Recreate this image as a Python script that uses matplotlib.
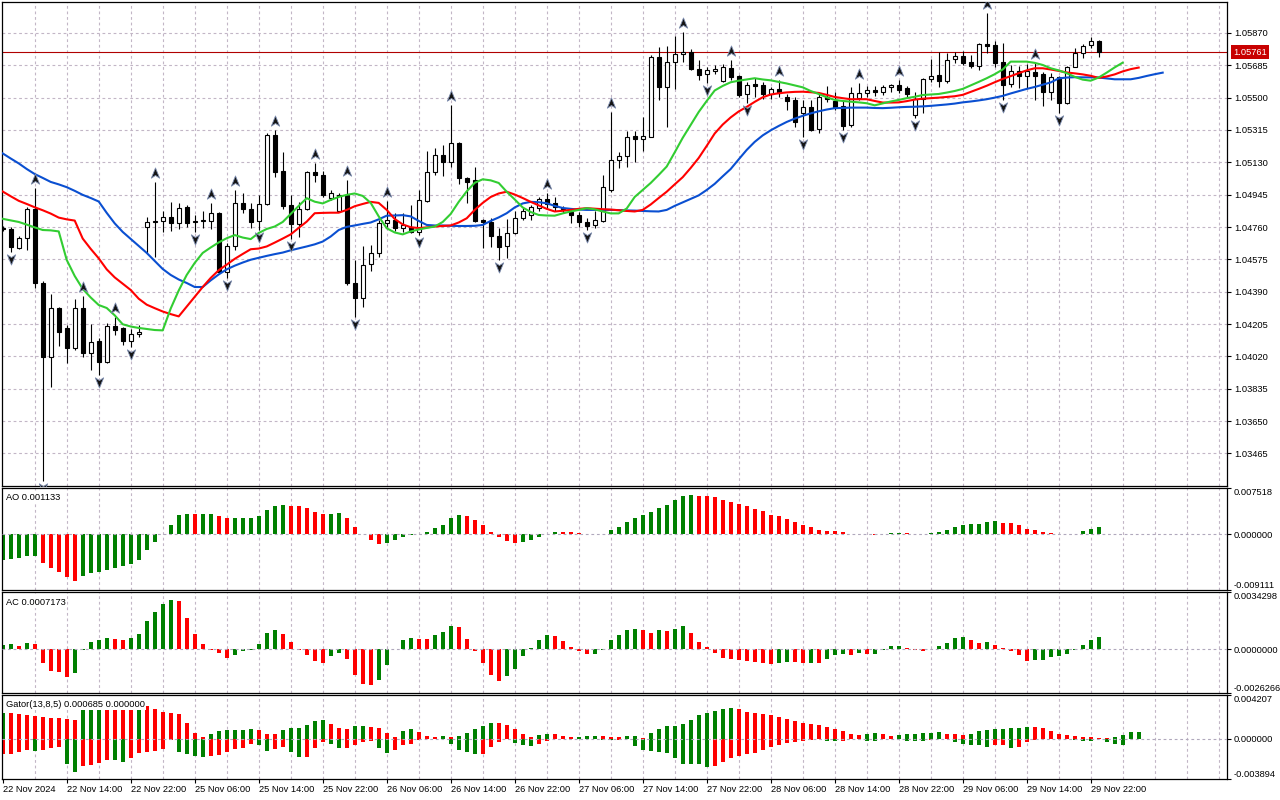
import matplotlib
matplotlib.use("Agg")
import matplotlib.pyplot as plt
import numpy as np
from matplotlib.path import Path
from matplotlib.transforms import offset_copy, blended_transform_factory

plt.rcParams['font.family'] = ['Liberation Sans', 'DejaVu Sans']
plt.rcParams['lines.scale_dashes'] = False

# EURUSD H1, 22 Nov 2024 06:00 .. 29 Nov 2024 23:00 (one value per bar)
opens = [1.04752, 1.04749, 1.04642, 1.04696, 1.04862, 1.04442, 1.04019, 1.04297, 1.04183, 1.04070,
         1.04296, 1.04038, 1.04109, 1.03987, 1.04194, 1.04183, 1.04109, 1.04147, 1.04762, 1.04789,
         1.04793, 1.04816, 1.04782, 1.04874, 1.04786, 1.04795, 1.04793, 1.04843, 1.04505, 1.04654,
         1.04900, 1.04862, 1.04797, 1.04891, 1.05287, 1.05081, 1.04887, 1.04776, 1.04864, 1.05077,
         1.05058, 1.04925, 1.04852, 1.04944, 1.04442, 1.04353, 1.04548, 1.04611, 1.04782, 1.04801,
         1.04754, 1.04763, 1.04734, 1.04911, 1.05074, 1.05173, 1.05134, 1.05243, 1.05039, 1.05030,
         1.04801, 1.04791, 1.04710, 1.04654, 1.04728, 1.04811, 1.04826, 1.04868, 1.04919, 1.04896,
         1.04871, 1.04848, 1.04829, 1.04791, 1.04769, 1.04797, 1.04973, 1.05144, 1.05167, 1.05281,
         1.05262, 1.05277, 1.05731, 1.05560, 1.05706, 1.05750, 1.05763, 1.05664, 1.05636, 1.05655,
         1.05597, 1.05668, 1.05624, 1.05520, 1.05577, 1.05573, 1.05522, 1.05548, 1.05506, 1.05487,
         1.05415, 1.05445, 1.05320, 1.05506, 1.05483, 1.05453, 1.05344, 1.05497, 1.05525, 1.05544,
         1.05531, 1.05563, 1.05573, 1.05554, 1.05401, 1.05491, 1.05606, 1.05630, 1.05596, 1.05720,
         1.05739, 1.05706, 1.05682, 1.05807, 1.05802, 1.05706, 1.05577, 1.05653, 1.05624, 1.05649,
         1.05636, 1.05535, 1.05617, 1.05468, 1.05678, 1.05754, 1.05802, 1.05825]
highs = [1.04768, 1.04761, 1.04709, 1.04877, 1.04982, 1.04452, 1.04377, 1.04305, 1.04200, 1.04349,
         1.04368, 1.04206, 1.04124, 1.04210, 1.04248, 1.04187, 1.04177, 1.04200, 1.04819, 1.05020,
         1.04852, 1.04902, 1.04896, 1.04887, 1.04830, 1.04849, 1.04896, 1.04847, 1.04668, 1.04973,
         1.04955, 1.04896, 1.04944, 1.05295, 1.05315, 1.05192, 1.04944, 1.04902, 1.05081, 1.05125,
         1.05081, 1.04973, 1.04955, 1.05030, 1.04572, 1.04652, 1.04658, 1.04801, 1.04911, 1.04839,
         1.04839, 1.04887, 1.04973, 1.05197, 1.05211, 1.05230, 1.05459, 1.05249, 1.05049, 1.05102,
         1.04807, 1.04811, 1.04754, 1.04805, 1.04849, 1.04868, 1.04887, 1.04934, 1.04954, 1.04931,
         1.04881, 1.04868, 1.04848, 1.04811, 1.04854, 1.05058, 1.05420, 1.05192, 1.05310, 1.05310,
         1.05388, 1.05744, 1.05792, 1.05798, 1.05853, 1.05878, 1.05777, 1.05716, 1.05678, 1.05687,
         1.05693, 1.05716, 1.05630, 1.05592, 1.05611, 1.05592, 1.05563, 1.05600, 1.05522, 1.05506,
         1.05487, 1.05487, 1.05525, 1.05567, 1.05535, 1.05487, 1.05563, 1.05583, 1.05567, 1.05567,
         1.05573, 1.05579, 1.05602, 1.05567, 1.05535, 1.05611, 1.05720, 1.05763, 1.05758, 1.05763,
         1.05769, 1.05744, 1.05811, 1.05983, 1.05826, 1.05815, 1.05687, 1.05682, 1.05690, 1.05700,
         1.05649, 1.05640, 1.05624, 1.05682, 1.05783, 1.05807, 1.05846, 1.05830]
lows = [1.04735, 1.04618, 1.04635, 1.04629, 1.04412, 1.03305, 1.03847, 1.04080, 1.03981, 1.04057,
        1.04019, 1.03943, 1.03914, 1.03981, 1.04143, 1.04086, 1.04076, 1.04133, 1.04610, 1.04591,
        1.04734, 1.04740, 1.04748, 1.04759, 1.04734, 1.04754, 1.04750, 1.04496, 1.04468, 1.04629,
        1.04839, 1.04753, 1.04744, 1.04887, 1.05049, 1.04864, 1.04690, 1.04705, 1.04858, 1.05017,
        1.04929, 1.04915, 1.04847, 1.04429, 1.04248, 1.04305, 1.04511, 1.04588, 1.04763, 1.04740,
        1.04734, 1.04725, 1.04715, 1.04906, 1.05058, 1.05053, 1.05102, 1.05007, 1.04900, 1.04786,
        1.04639, 1.04648, 1.04572, 1.04582, 1.04721, 1.04801, 1.04801, 1.04854, 1.04868, 1.04854,
        1.04839, 1.04782, 1.04763, 1.04744, 1.04754, 1.04791, 1.04963, 1.05097, 1.05106, 1.05134,
        1.05197, 1.05274, 1.05487, 1.05334, 1.05548, 1.05706, 1.05659, 1.05602, 1.05585, 1.05636,
        1.05592, 1.05602, 1.05506, 1.05468, 1.05506, 1.05491, 1.05491, 1.05506, 1.05430, 1.05334,
        1.05277, 1.05312, 1.05300, 1.05477, 1.05430, 1.05316, 1.05334, 1.05487, 1.05506, 1.05510,
        1.05516, 1.05535, 1.05525, 1.05506, 1.05383, 1.05411, 1.05592, 1.05563, 1.05586, 1.05697,
        1.05687, 1.05668, 1.05659, 1.05754, 1.05678, 1.05487, 1.05560, 1.05554, 1.05554, 1.05487,
        1.05453, 1.05487, 1.05411, 1.05464, 1.05678, 1.05726, 1.05783, 1.05731]
closes = [1.04749, 1.04646, 1.04696, 1.04862, 1.04439, 1.04019, 1.04296, 1.04162, 1.04070, 1.04296,
          1.04038, 1.04105, 1.03987, 1.04194, 1.04170, 1.04111, 1.04147, 1.04162, 1.04789, 1.04795,
          1.04816, 1.04782, 1.04868, 1.04782, 1.04795, 1.04798, 1.04839, 1.04505, 1.04654, 1.04896,
          1.04862, 1.04791, 1.04893, 1.05287, 1.05077, 1.04883, 1.04776, 1.04864, 1.05077, 1.05058,
          1.04944, 1.04954, 1.04944, 1.04439, 1.04353, 1.04544, 1.04611, 1.04782, 1.04801, 1.04754,
          1.04769, 1.04734, 1.04915, 1.05074, 1.05173, 1.05134, 1.05240, 1.05039, 1.05020, 1.04797,
          1.04791, 1.04706, 1.04643, 1.04728, 1.04811, 1.04854, 1.04874, 1.04919, 1.04893, 1.04877,
          1.04864, 1.04829, 1.04786, 1.04767, 1.04801, 1.04988, 1.05144, 1.05167, 1.05277, 1.05262,
          1.05281, 1.05731, 1.05563, 1.05706, 1.05750, 1.05763, 1.05664, 1.05630, 1.05659, 1.05663,
          1.05674, 1.05620, 1.05516, 1.05573, 1.05567, 1.05522, 1.05548, 1.05526, 1.05483, 1.05363,
          1.05445, 1.05316, 1.05506, 1.05491, 1.05449, 1.05338, 1.05525, 1.05525, 1.05544, 1.05531,
          1.05560, 1.05573, 1.05544, 1.05522, 1.05491, 1.05606, 1.05624, 1.05597, 1.05716, 1.05739,
          1.05700, 1.05682, 1.05807, 1.05796, 1.05700, 1.05573, 1.05653, 1.05624, 1.05653, 1.05624,
          1.05535, 1.05617, 1.05468, 1.05678, 1.05758, 1.05796, 1.05825, 1.05761]

last_price = 1.05761

# Bill Williams fractals (bar numbers)
up_fractals = [4, 10, 14, 19, 26, 29, 34, 39, 43, 48, 56, 68, 76, 85, 91, 97, 107, 112, 123, 129]
down_fractals = [1, 5, 12, 16, 24, 28, 32, 36, 44, 52, 62, 73, 88, 93, 100, 105, 114, 125, 132]

# Alligator lines as drawn (already shifted forward 8 / 5 / 3 bars)
jaw = [1.05181, 1.05152, 1.05124, 1.05092, 1.05063, 1.05041, 1.05018, 1.05004, 1.04988, 1.04967,
       1.04944, 1.04926, 1.04906, 1.04841, 1.04781, 1.04732, 1.04692, 1.04652, 1.04612, 1.04566,
       1.04520, 1.04486, 1.04460, 1.04440, 1.04417, 1.04417, 1.04455, 1.04489, 1.04518, 1.04539,
       1.04557, 1.04573, 1.04584, 1.04595, 1.04605, 1.04614, 1.04627, 1.04638, 1.04649, 1.04661,
       1.04677, 1.04706, 1.04743, 1.04761, 1.04769, 1.04778, 1.04786, 1.04804, 1.04825, 1.04826,
       1.04828, 1.04821, 1.04795, 1.04772, 1.04769, 1.04769, 1.04767, 1.04766, 1.04766, 1.04767,
       1.04772, 1.04795, 1.04815, 1.04839, 1.04872, 1.04895, 1.04904, 1.04902, 1.04896, 1.04881,
       1.04869, 1.04864, 1.04860, 1.04858, 1.04858, 1.04858, 1.04858, 1.04857, 1.04855, 1.04854,
       1.04852, 1.04850, 1.04849, 1.04858, 1.04881, 1.04901, 1.04921, 1.04941, 1.04972, 1.05007,
       1.05050, 1.05092, 1.05147, 1.05201, 1.05247, 1.05284, 1.05313, 1.05338, 1.05361, 1.05380,
       1.05396, 1.05410, 1.05422, 1.05432, 1.05440, 1.05441, 1.05443, 1.05443, 1.05443, 1.05441,
       1.05440, 1.05442, 1.05445, 1.05447, 1.05448, 1.05450, 1.05453, 1.05457, 1.05461, 1.05466,
       1.05473, 1.05478, 1.05484, 1.05491, 1.05500, 1.05510, 1.05524, 1.05537, 1.05550, 1.05561,
       1.05574, 1.05587, 1.05610, 1.05615, 1.05617, 1.05616, 1.05616, 1.05615, 1.05610, 1.05605,
       1.05605, 1.05605, 1.05613, 1.05624, 1.05634, 1.05643]
teeth = [1.04963, 1.04936, 1.04910, 1.04892, 1.04873, 1.04856, 1.04837, 1.04814, 1.04804, 1.04797,
         1.04694, 1.04635, 1.04581, 1.04518, 1.04472, 1.04436, 1.04400, 1.04350, 1.04316, 1.04296,
         1.04277, 1.04262, 1.04249, 1.04305, 1.04362, 1.04417, 1.04469, 1.04513, 1.04545, 1.04578,
         1.04606, 1.04633, 1.04637, 1.04649, 1.04671, 1.04694, 1.04718, 1.04755, 1.04791, 1.04839,
         1.04841, 1.04842, 1.04842, 1.04858, 1.04879, 1.04892, 1.04904, 1.04898, 1.04858, 1.04806,
         1.04775, 1.04759, 1.04754, 1.04758, 1.04763, 1.04766, 1.04769, 1.04786, 1.04810, 1.04858,
         1.04898, 1.04932, 1.04952, 1.04962, 1.04946, 1.04926, 1.04904, 1.04884, 1.04864, 1.04849,
         1.04853, 1.04858, 1.04864, 1.04868, 1.04865, 1.04862, 1.04860, 1.04856, 1.04852, 1.04849,
         1.04858, 1.04889, 1.04926, 1.04962, 1.05004, 1.05045, 1.05098, 1.05155, 1.05224, 1.05295,
         1.05346, 1.05387, 1.05421, 1.05447, 1.05476, 1.05502, 1.05518, 1.05525, 1.05530, 1.05533,
         1.05534, 1.05531, 1.05527, 1.05516, 1.05504, 1.05497, 1.05491, 1.05491, 1.05491, 1.05481,
         1.05472, 1.05472, 1.05473, 1.05480, 1.05489, 1.05494, 1.05497, 1.05500, 1.05504, 1.05508,
         1.05516, 1.05533, 1.05550, 1.05568, 1.05588, 1.05607, 1.05623, 1.05640, 1.05656, 1.05668,
         1.05668, 1.05661, 1.05653, 1.05644, 1.05639, 1.05633, 1.05625, 1.05613, 1.05621, 1.05633,
         1.05650, 1.05663, 1.05672]
lips = [1.04807, 1.04798, 1.04789, 1.04774, 1.04758, 1.04743, 1.04741, 1.04735, 1.04572, 1.04480,
        1.04406, 1.04357, 1.04314, 1.04297, 1.04255, 1.04204, 1.04191, 1.04183, 1.04177, 1.04171,
        1.04169, 1.04294, 1.04397, 1.04486, 1.04555, 1.04612, 1.04643, 1.04672, 1.04696, 1.04714,
        1.04700, 1.04691, 1.04726, 1.04749, 1.04763, 1.04789, 1.04835, 1.04881, 1.04925, 1.04905,
        1.04895, 1.04915, 1.04932, 1.04944, 1.04952, 1.04938, 1.04898, 1.04821, 1.04753, 1.04729,
        1.04718, 1.04735, 1.04746, 1.04755, 1.04763, 1.04789, 1.04835, 1.04904, 1.04964, 1.05013,
        1.05033, 1.05027, 1.05012, 1.04962, 1.04918, 1.04872, 1.04846, 1.04829, 1.04826, 1.04825,
        1.04838, 1.04849, 1.04858, 1.04868, 1.04861, 1.04849, 1.04838, 1.04838, 1.04866, 1.04932,
        1.04972, 1.05012, 1.05058, 1.05106, 1.05187, 1.05270, 1.05344, 1.05418, 1.05481, 1.05541,
        1.05567, 1.05588, 1.05597, 1.05604, 1.05611, 1.05604, 1.05599, 1.05590, 1.05581, 1.05570,
        1.05559, 1.05538, 1.05521, 1.05502, 1.05487, 1.05481, 1.05477, 1.05473, 1.05468, 1.05456,
        1.05467, 1.05478, 1.05487, 1.05497, 1.05505, 1.05515, 1.05518, 1.05521, 1.05529, 1.05538,
        1.05550, 1.05570, 1.05590, 1.05611, 1.05634, 1.05661, 1.05706, 1.05706, 1.05706, 1.05699,
        1.05687, 1.05668, 1.05656, 1.05640, 1.05619, 1.05603, 1.05597, 1.05615, 1.05643, 1.05673,
        1.05700]

ao = [-0.00416, -0.00403, -0.00388, -0.00355, -0.00353, -0.00471, -0.00555, -0.00621, -0.00704, -0.00770,
      -0.00676, -0.00638, -0.00621, -0.00588, -0.00555, -0.00521, -0.00488, -0.00421, -0.00266, -0.00133,
      0.00005, 0.00155, 0.00305, 0.00322, 0.00320, 0.00322, 0.00324, 0.00288, 0.00255, 0.00258,
      0.00266, 0.00267, 0.00288, 0.00388, 0.00455, 0.00471, 0.00455, 0.00454, 0.00421, 0.00355,
      0.00322, 0.00324, 0.00338, 0.00258, 0.00122, -0.00005, -0.00089, -0.00161, -0.00139, -0.00089,
      -0.00039, -0.00022, 0.00008, 0.00039, 0.00105, 0.00155, 0.00255, 0.00305, 0.00288, 0.00238,
      0.00155, 0.00039, -0.00055, -0.00105, -0.00144, -0.00122, -0.00089, -0.00044, -0.00005, 0.00039,
      0.00037, 0.00036, 0.00022, 0.00006, 0.00005, 0.00006, 0.00072, 0.00122, 0.00194, 0.00255,
      0.00310, 0.00355, 0.00421, 0.00471, 0.00560, 0.00621, 0.00637, 0.00627, 0.00621, 0.00604,
      0.00560, 0.00527, 0.00488, 0.00455, 0.00410, 0.00377, 0.00305, 0.00288, 0.00244, 0.00205,
      0.00155, 0.00122, 0.00072, 0.00055, 0.00053, 0.00033, 0.00005, 0.00002, 0.00001, -0.00022,
      -0.00005, 0.00017, 0.00018, 0.00015, 0.00002, 0.00003, 0.00015, 0.00033, 0.00066, 0.00116,
      0.00155, 0.00158, 0.00166, 0.00205, 0.00206, 0.00188, 0.00185, 0.00155, 0.00089, 0.00072,
      0.00039, 0.00022, -0.00002, 0.00001, 0.00006, 0.00055, 0.00089, 0.001133]
ac = [0.00024, 0.00031, 0.00022, 0.00037, 0.00031, -0.00084, -0.00129, -0.00139, -0.00169, -0.00145,
      -0.00002, 0.00043, 0.00055, 0.00067, 0.00061, 0.00055, 0.00067, 0.00092, 0.00171, 0.00226,
      0.00269, 0.00294, 0.00288, 0.00190, 0.00092, 0.00031, -0.00002, -0.00022, -0.00055, -0.00037,
      -0.00010, -0.00004, 0.00031, 0.00098, 0.00116, 0.00092, 0.00043, -0.00002, -0.00037, -0.00071,
      -0.00080, -0.00043, -0.00022, -0.00061, -0.00153, -0.00206, -0.00214, -0.00184, -0.00092, 0.00004,
      0.00055, 0.00067, 0.00063, 0.00062, 0.00088, 0.00106, 0.00137, 0.00131, 0.00063, -0.00010,
      -0.00082, -0.00157, -0.00188, -0.00163, -0.00120, -0.00039, 0.00008, 0.00057, 0.00088, 0.00082,
      0.00051, 0.00014, -0.00008, -0.00027, -0.00026, -0.00002, 0.00057, 0.00088, 0.00118, 0.00124,
      0.00118, 0.00100, 0.00118, 0.00112, 0.00124, 0.00137, 0.00100, 0.00045, 0.00014, -0.00022,
      -0.00053, -0.00059, -0.00065, -0.00071, -0.00078, -0.00084, -0.00090, -0.00084, -0.00078, -0.00079,
      -0.00084, -0.00083, -0.00085, -0.00059, -0.00035, -0.00027, -0.00037, -0.00022, -0.00031, -0.00029,
      -0.00002, 0.00018, 0.00019, 0.00006, -0.00006, -0.00008, 0.00004, 0.00022, 0.00037, 0.00067,
      0.00073, 0.00055, 0.00037, 0.00043, 0.00024, 0.00006, -0.00008, -0.00035, -0.00071, -0.00065,
      -0.00064, -0.00047, -0.00041, -0.00027, -0.00002, 0.00024, 0.00055, 0.000717]
gator_up = [0.00247, 0.00246, 0.00237, 0.00230, 0.00220, 0.00211, 0.00197, 0.00196, 0.00188, 0.00178,
            0.00300, 0.00318, 0.00325, 0.00323, 0.00310, 0.00300, 0.00292, 0.00318, 0.00313, 0.00286,
            0.00257, 0.00247, 0.00237, 0.00148, 0.00059, 0.00020, 0.00046, 0.00069, 0.00079, 0.00080,
            0.00081, 0.00092, 0.00079, 0.00049, 0.00046, 0.00079, 0.00099, 0.00100, 0.00128, 0.00168,
            0.00178, 0.00138, 0.00099, 0.00089, 0.00118, 0.00125, 0.00115, 0.00099, 0.00059, 0.00020,
            0.00069, 0.00089, 0.00062, 0.00023, 0.00013, 0.00023, 0.00013, 0.00023, 0.00053, 0.00092,
            0.00122, 0.00151, 0.00150, 0.00132, 0.00092, 0.00043, 0.00013, 0.00033, 0.00043, 0.00042,
            0.00023, 0.00013, 0.00014, 0.00023, 0.00024, 0.00022, 0.00013, 0.00012, 0.00023, 0.00024,
            0.00010, 0.00053, 0.00092, 0.00122, 0.00123, 0.00141, 0.00181, 0.00230, 0.00250, 0.00270,
            0.00290, 0.00299, 0.00290, 0.00260, 0.00250, 0.00240, 0.00230, 0.00211, 0.00191, 0.00171,
            0.00151, 0.00141, 0.00132, 0.00112, 0.00092, 0.00069, 0.00049, 0.00039, 0.00049, 0.00050,
            0.00040, 0.00030, 0.00031, 0.00040, 0.00049, 0.00050, 0.00059, 0.00060, 0.00049, 0.00040,
            0.00039, 0.00049, 0.00069, 0.00079, 0.00089, 0.00090, 0.00099, 0.00100, 0.00109, 0.00108,
            0.00099, 0.00069, 0.00049, 0.00039, 0.00030, 0.00020, 0.00019, 0.00010, 0.00004, 0.00020,
            0.00039, 0.00067, 0.000685]
gator_down = [-0.00151, -0.00148, -0.00125, -0.00112, -0.00115, -0.00113, -0.00086, -0.00076, -0.00243, -0.00322,
              -0.00263, -0.00257, -0.00234, -0.00204, -0.00206, -0.00224, -0.00191, -0.00141, -0.00125, -0.00124,
              -0.00102, -0.00016, -0.00132, -0.00145, -0.00165, -0.00174, -0.00164, -0.00158, -0.00132, -0.00102,
              -0.00092, -0.00049, -0.00066, -0.00115, -0.00102, -0.00082, -0.00132, -0.00181, -0.00174, -0.00086,
              -0.00033, -0.00056, -0.00092, -0.00086, -0.00066, -0.00033, -0.00026, -0.00092, -0.00135, -0.00112,
              -0.00066, -0.00049, -0.00013, -0.00003, -0.00001, -0.00002, -0.00056, -0.00105, -0.00125, -0.00151,
              -0.00145, -0.00082, -0.00033, -0.00005, -0.00043, -0.00063, -0.00072, -0.00053, -0.00026, -0.00003,
              -0.00002, -0.00001, -0.00002, -0.00003, -0.00008, -0.00013, -0.00014, -0.00012, -0.00003, -0.00072,
              -0.00105, -0.00115, -0.00125, -0.00135, -0.00184, -0.00243, -0.00244, -0.00245, -0.00273, -0.00263,
              -0.00224, -0.00184, -0.00165, -0.00151, -0.00135, -0.00105, -0.00076, -0.00066, -0.00046, -0.00036,
              -0.00023, -0.00013, -0.00007, -0.00026, -0.00027, -0.00026, -0.00003, -0.00004, -0.00026, -0.00027,
              -0.00005, -0.00004, -0.00005, -0.00020, -0.00021, -0.00026, -0.00016, -0.00006, -0.00007, -0.00036,
              -0.00056, -0.00057, -0.00066, -0.00076, -0.00066, -0.00065, -0.00086, -0.00076, -0.00036, -0.00016,
              -0.00002, -0.00001, -0.00007, -0.00004, -0.00016, -0.00026, -0.00027, -0.00007, -0.00036, -0.00056,
              -0.00057]

price_ticks = [1.05870, 1.05685, 1.05500, 1.05315, 1.05130, 1.04945, 1.04760,
               1.04575, 1.04390, 1.04205, 1.04020, 1.03835, 1.03650, 1.03465]
date_pos = [0, 8, 16, 24, 32, 40, 48, 56, 64, 72, 80, 88, 96, 104, 112, 120, 128, 136]
date_labels = ['22 Nov 2024', '22 Nov 14:00', '22 Nov 22:00', '25 Nov 06:00', '25 Nov 14:00',
               '25 Nov 22:00', '26 Nov 06:00', '26 Nov 14:00', '26 Nov 22:00', '27 Nov 06:00',
               '27 Nov 14:00', '27 Nov 22:00', '28 Nov 06:00', '28 Nov 14:00', '28 Nov 22:00',
               '29 Nov 06:00', '29 Nov 14:00', '29 Nov 22:00']

GREEN, RED = '#008000', '#ff0000'
GRID = '#c2b6c6'
DASH = (0, (2, 2))
W, H = 1280, 800
XLIM = (-0.09, 153.04)
FS = 6.7

fig = plt.figure(figsize=(W / 100, H / 100), dpi=100)


def panel(top, bottom):
    a = fig.add_axes([2 / W, 1 - bottom / H, 1225 / W, (bottom - top) / H])
    a.set_xlim(*XLIM)
    for s in a.spines.values():
        s.set_color('black')
        s.set_linewidth(0.9)
    a.vlines(np.arange(4, 153, 4), 0, 1, transform=a.get_xaxis_transform(),
             colors=GRID, linestyles=DASH, linewidth=0.8, zorder=0)
    a.yaxis.tick_right()
    a.tick_params(axis='y', length=3, width=0.8, pad=2, labelsize=FS)
    a.tick_params(axis='x', length=3, width=0.8, pad=1.5, labelsize=FS)
    a.set_xticks([])
    return a


# ---- main price window ----
ax = panel(2, 486)
ax.set_ylim(1.03279, 1.06047)
ax.set_yticks(price_ticks, [f'{p:.5f}' for p in price_ticks])
ax.hlines(price_ticks, 0, 1, transform=ax.get_yaxis_transform(),
          colors=GRID, linestyles=DASH, linewidth=0.8, zorder=0)

o, h, l, c = (np.array(v) for v in (opens, highs, lows, closes))
idx = np.arange(len(o))
bull = c >= o
ax.vlines(idx, l, h, colors='black', linewidth=0.8, zorder=2)
ax.bar(idx, np.abs(c - o), bottom=np.minimum(o, c), width=0.46,
       color=np.where(bull, 'white', 'black'), edgecolor='black', linewidth=0.8, zorder=3)

for vals, col in ((jaw, '#0a4fd1'), (teeth, '#ff0000'), (lips, '#32cd32')):
    ax.plot(np.arange(len(vals)), vals, color=col, linewidth=1.5, zorder=4)

ax.axhline(last_price, color='#b00000', linewidth=0.8, zorder=1.5)
ax.text((1233 - 2) / 1225, last_price, f'{last_price:.5f}',
        transform=blended_transform_factory(ax.transAxes, ax.transData),
        ha='left', va='center', fontsize=FS, color='white', clip_on=False, zorder=6,
        bbox=dict(boxstyle='square,pad=0.25', fc='#c80000', ec='none'))

arrow_up = Path([(0, 1), (0.75, -0.85), (0, -0.35), (-0.75, -0.85), (0, 1)],
                [Path.MOVETO, Path.LINETO, Path.LINETO, Path.LINETO, Path.CLOSEPOLY])
arrow_dn = Path(arrow_up.vertices * [1, -1], arrow_up.codes)
uf, df = np.array(up_fractals), np.array(down_fractals)
ax.plot(uf, h[uf], ls='none', marker=arrow_up, ms=8, mfc='#141414', mec='#7d8db0', mew=0.6,
        zorder=5, transform=offset_copy(ax.transData, fig=fig, y=9, units='dots'))
ax.plot(df, l[df], ls='none', marker=arrow_dn, ms=8, mfc='#141414', mec='#7d8db0', mew=0.6,
        zorder=5, transform=offset_copy(ax.transData, fig=fig, y=-7, units='dots'))


# ---- oscillator windows ----
def histogram(a, vals, first_green, use_abs=False):
    v = np.asarray(vals)
    m = np.abs(v) if use_abs else v
    rising = np.r_[first_green, m[1:] > m[:-1]]
    a.bar(np.arange(len(v)), v, width=0.5, color=np.where(rising, GREEN, RED),
          linewidth=0, zorder=2)


def scale(a, top, bottom, labels, name, name_y):
    a.set_ylim(bottom, top)
    a.set_yticks([top, 0, bottom], labels)
    ticks = a.yaxis.get_major_ticks()
    ticks[0].label2.set_va('top')
    ticks[2].label2.set_va('bottom')
    a.axhline(0, color='#b0a8bc', linestyle=DASH, linewidth=0.8, zorder=3)
    a.text(4 / 1225, name_y, name, transform=a.transAxes, ha='left', va='center',
           fontsize=FS, zorder=6, bbox=dict(boxstyle='square,pad=0.15', fc='white', ec='none'))


ax_ao = panel(488, 590)
histogram(ax_ao, ao, True)
scale(ax_ao, 0.007518, -0.009111, ['0.007518', '0.000000', '-0.009111'], 'AO 0.001133', 0.91)

ax_ac = panel(592, 693)
histogram(ax_ac, ac, True)
scale(ax_ac, 0.0034298, -0.0026266, ['0.0034298', '0.0000000', '-0.0026266'],
      'AC 0.0007173', 0.90)

ax_gt = panel(695, 779)
histogram(ax_gt, gator_up, True, use_abs=True)
histogram(ax_gt, gator_down, False, use_abs=True)
scale(ax_gt, 0.004207, -0.003894, ['0.004207', '0.000000', '-0.003894'],
      'Gator(13,8,5) 0.000685 0.000000', 0.89)

ax_gt.set_xticks(date_pos, date_labels)
for lbl in ax_gt.get_xticklabels():
    lbl.set_ha('left')

fig.savefig('out.png', dpi=100, facecolor='white')
